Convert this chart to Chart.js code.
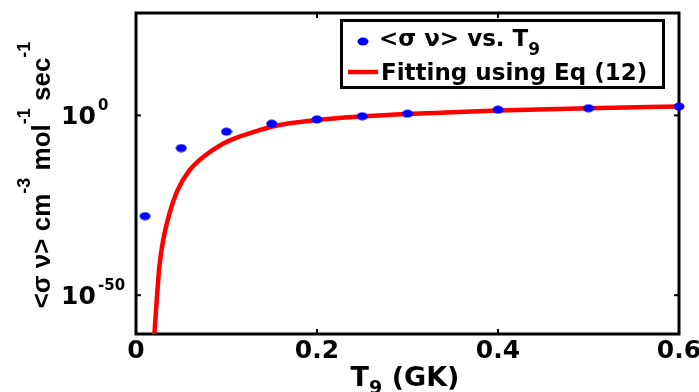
<!DOCTYPE html>
<html>
<head>
<meta charset="utf-8">
<script src="https://cdn.jsdelivr.net/npm/chart.js@4.4.1/dist/chart.umd.min.js"></script>
<style>
html, body { margin: 0; padding: 0; background: #fff; }
</style>
</head>
<body>
<canvas id="rateChart" width="699" height="392"></canvas>
<script>
// values
const T9 = [0.01, 0.05, 0.1, 0.15, 0.2, 0.25, 0.3, 0.4, 0.5, 0.6];
const sigmaV = [1e-28, 8e-10, 3e-5, 5e-3, 8e-2, 0.6, 3, 40, 100, 300];
const T9Fit = [0.0203, 0.0229, 0.0258, 0.030, 0.037, 0.046, 0.059, 0.074, 0.096, 0.11, 0.133, 0.152, 0.2, 0.25, 0.3, 0.35, 0.4, 0.5, 0.6];
const sigmaVFit = [1e-61, 4e-52, 8e-43, 2e-35, 5e-28, 1.6e-21, 5e-16, 2.5e-12, 1.3e-8, 5e-7, 4e-5, 1e-3, 5e-2, 0.5, 2.5, 7, 22, 100, 280];
const xTicks = [0, 0.2, 0.4, 0.6];
const yTicks = [1e-50, 1];
const yTickExp = ['-50', '0'];

const BOLD = '"DejaVu Sans", sans-serif';
const ARIAL = '"Liberation Sans", Arial, sans-serif';

// oval marker like in the picture
const dot = document.createElement('canvas');
dot.width = 12; dot.height = 9;
const dctx = dot.getContext('2d');
dctx.fillStyle = '#0000ff';
dctx.beginPath();
dctx.ellipse(6, 4.5, 5.5, 4, 0, 0, Math.PI * 2);
dctx.fill();

function seg(ctx, x1, y1, x2, y2) {
  ctx.beginPath(); ctx.moveTo(x1, y1); ctx.lineTo(x2, y2); ctx.stroke();
}

const deco = {
  id: 'deco',
  beforeDatasetsDraw(chart) {
    const { ctx, chartArea: a } = chart;
    const xs = chart.scales.x, ys = chart.scales.y;
    ctx.save();
    ctx.strokeStyle = '#000';
    ctx.lineWidth = 3;
    ctx.strokeRect(a.left, a.top, a.right - a.left, a.bottom - a.top);
    ctx.lineWidth = 2;
    xTicks.forEach(v => {
      const p = xs.getPixelForValue(v);
      seg(ctx, p, a.bottom, p, a.bottom - 5);
      seg(ctx, p, a.top, p, a.top + 5);
    });
    yTicks.forEach(v => {
      const p = ys.getPixelForValue(v);
      seg(ctx, a.left, p, a.left + 5, p);
      seg(ctx, a.right, p, a.right - 5, p);
    });
    ctx.restore();
  },
  afterDraw(chart) {
    const { ctx } = chart;
    const ys = chart.scales.y;
    ctx.save();
    ctx.fillStyle = '#000';
    ctx.textBaseline = 'alphabetic';
    ctx.textAlign = 'left';

    // y tick labels 10^n
    yTicks.forEach((v, i) => {
      const p = ys.getPixelForValue(v);
      ctx.font = 'bold 25px ' + BOLD;
      ctx.fillText('10', 61, p + 9);
      ctx.font = 'bold 15px ' + BOLD;
      ctx.fillText(yTickExp[i], 98, p - 5);
    });

    // y title with superscripts
    const parts = [['<σ ν> cm', 0], ['-3', 1], [' mol', 0], ['-1', 1], [' sec', 0], ['-1', 1]];
    const fMain = 'bold 26px ' + ARIAL, fSup = 'bold 18px ' + ARIAL;
    let total = 0;
    parts.forEach(([t, s]) => { ctx.font = s ? fSup : fMain; total += ctx.measureText(t).width; });
    ctx.save();
    ctx.translate(50, 175);
    ctx.rotate(-Math.PI / 2);
    let px = -total / 2;
    parts.forEach(([t, s]) => {
      ctx.font = s ? fSup : fMain;
      ctx.fillText(t, px, s ? -20 : 0);
      px += ctx.measureText(t).width;
    });
    ctx.restore();

    // x title T9 (GK)
    const fx = 'bold 27px ' + BOLD, fxs = 'bold 19px ' + BOLD;
    ctx.font = fx; const wT = ctx.measureText('T').width, wR = ctx.measureText(' (GK)').width;
    ctx.font = fxs; const w9 = ctx.measureText('9').width;
    let tx = 405 - (wT + w9 + wR) / 2;
    ctx.font = fx; ctx.fillText('T', tx, 386); tx += wT;
    ctx.font = fxs; ctx.fillText('9', tx, 394); tx += w9;
    ctx.font = fx; ctx.fillText(' (GK)', tx, 386);

    // legend
    ctx.fillStyle = '#fff';
    ctx.fillRect(341.5, 20.5, 322, 67);
    ctx.strokeStyle = '#000';
    ctx.lineWidth = 3;
    ctx.strokeRect(341.5, 20.5, 322, 67);
    ctx.drawImage(dot, 357, 37);
    ctx.fillStyle = '#000';
    ctx.font = 'bold 23px ' + BOLD;
    ctx.fillText('<σ ν> vs. T', 379, 46);
    const wl = ctx.measureText('<σ ν> vs. T').width;
    ctx.font = 'bold 17px ' + BOLD;
    ctx.fillText('9', 379 + wl, 55);
    ctx.strokeStyle = '#ff0000';
    ctx.lineWidth = 4.5;
    seg(ctx, 348, 72, 378, 72);
    ctx.font = 'bold 23px ' + BOLD;
    ctx.fillText('Fitting using Eq (12)', 381, 80);
    ctx.restore();
  }
};

new Chart(document.getElementById('rateChart').getContext('2d'), {
  data: {
    datasets: [
      {
        type: 'scatter',
        label: '<σ ν> vs. T₉',
        data: T9.map((x, i) => ({ x: x, y: sigmaV[i] })),
        pointStyle: dot,
        backgroundColor: '#0000ff',
        borderColor: '#0000ff',
        clip: false
      },
      {
        type: 'line',
        label: 'Fitting using Eq (12)',
        data: T9Fit.map((x, i) => ({ x: x, y: sigmaVFit[i] })),
        borderColor: '#ff0000',
        borderWidth: 4.5,
        pointRadius: 0,
        fill: false,
        cubicInterpolationMode: 'monotone',
        clip: 0
      }
    ]
  },
  options: {
    responsive: false,
    devicePixelRatio: 1,
    animation: false,
    layout: { padding: { top: 13, right: 20, left: 0, bottom: 0 } },
    plugins: { legend: { display: false }, tooltip: { enabled: false } },
    scales: {
      x: {
        type: 'linear',
        min: 0,
        max: 0.6,
        afterBuildTicks: s => { s.ticks = xTicks.map(v => ({ value: v })); },
        afterFit: s => { s.height = 58; s.paddingLeft = 0; s.paddingRight = 0; },
        grid: { display: false, drawTicks: false },
        border: { display: false },
        ticks: {
          padding: 2,
          maxRotation: 0,
          color: '#000',
          font: { family: 'DejaVu Sans', weight: 'bold', size: 25 }
        }
      },
      y: {
        type: 'logarithmic',
        min: 1.6e-61,
        max: 3e28,
        bounds: 'data',
        afterBuildTicks: s => { s.ticks = yTicks.map(v => ({ value: v })); },
        afterFit: s => { s.width = 136; s.paddingTop = 0; s.paddingBottom = 0; },
        grid: { display: false, drawTicks: false },
        border: { display: false },
        ticks: { display: false }
      }
    }
  },
  plugins: [deco]
});
</script>
</body>
</html>
